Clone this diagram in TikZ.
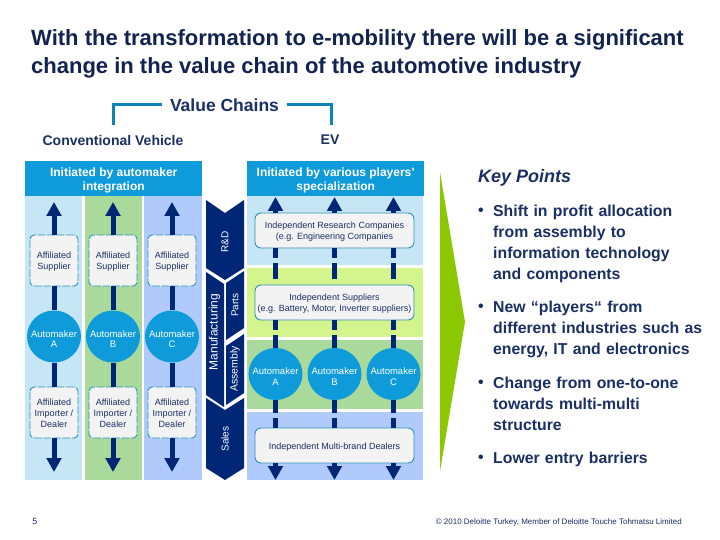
\documentclass[tikz,border=0pt]{standalone}
\usepackage{fontspec}
\setmainfont{Liberation Sans}
\usetikzlibrary{arrows.meta,shapes.geometric}
\definecolor{navy}{HTML}{1A2F63}
\definecolor{titlec}{HTML}{12234F}
\definecolor{dark}{HTML}{002776}
\definecolor{cyanh}{HTML}{0F9BD9}
\definecolor{teal}{HTML}{2C93B5}
\definecolor{lblue}{HTML}{C6E6F5}
\definecolor{lgreen}{HTML}{A9DA9B}
\definecolor{lperi}{HTML}{B0CBFB}
\definecolor{lyel}{HTML}{D4F58E}
\definecolor{lime}{HTML}{8CC800}
\definecolor{boxf}{HTML}{F3F3F3}
\tikzset{
  x=1pt,y=-1pt,
  head/.style={fill=cyanh,minimum width=177pt,minimum height=35pt,inner sep=0pt},
  headtext/.style={text=white,font=\fontsize{12}{14}\selectfont\bfseries,align=center,inner sep=0pt,yshift=-2pt},
  dashbox/.style={draw=teal,dash pattern=on 8pt off 1.5pt,line width=0.9pt,fill=boxf,rounded corners=4pt,minimum width=48pt,minimum height=51pt,inner sep=0pt},
  solidbox/.style={draw=teal,line width=0.9pt,fill=boxf,rounded corners=6pt,minimum width=159pt,minimum height=35pt,inner sep=0pt},
  boxtext/.style={align=center,inner sep=0pt,text=navy,font=\fontsize{9}{11}\selectfont,yshift=-1.5pt},
  maker/.style={ellipse,fill=cyanh,minimum width=54pt,minimum height=52pt,inner sep=0pt},
  makertext/.style={text=white,align=center,inner sep=0pt,font=\fontsize{9.5}{10.5}\selectfont,yshift=-2.5pt},
  flow/.style={draw=dark,line width=5pt,-{Triangle[width=14.5pt,length=14pt]}},
  plainflow/.style={draw=dark,line width=5pt},
  chev/.style={fill=dark,draw=none},
  chevt/.style={text=white,font=\fontsize{10}{12}\selectfont,inner sep=0pt},
  brk/.style={draw=cyanh!85!black,line width=3pt},
  txt/.style={text=navy,inner sep=0pt},
  key/.style={text=navy,inner sep=0pt,anchor=north west,align=left,font=\fontsize{15.8}{21}\selectfont\bfseries,text width=225pt},
}
\begin{document}
\begin{tikzpicture}
\useasboundingbox (0,0) rectangle (720,540);
\fill[white] (0,0) rectangle (720,540);
% title
\node[text=titlec,inner sep=0pt,anchor=north west,align=left,font=\fontsize{22}{28}\selectfont\bfseries] (title) at (31,29) {With the transformation to e-mobility there will be a significant\\change in the value chain of the automotive industry};
% value chains
\node[txt,font=\fontsize{17.5}{20}\selectfont\bfseries] (vc) at (224.5,105) {Value Chains};
\node[txt,font=\fontsize{14}{16}\selectfont\bfseries] (cv) at (113,140) {Conventional Vehicle};
\node[txt,font=\fontsize{14}{16}\selectfont\bfseries] (ev) at (330,140) {EV};
\coordinate (bl) at (113,125); \coordinate (bla) at (113,105);
\coordinate (br) at (331,125); \coordinate (bra) at (331,105);
\draw[brk] (bl) -- (bla) -- ([xshift=-8pt]vc.west);
\draw[brk] (br) -- (bra) -- ([xshift=8pt]vc.east);
% left columns
\fill[lblue] (25,196) rectangle (82,480);
\fill[lgreen] (85,196) rectangle (142,480);
\fill[lperi] (144,196) rectangle (202,480);
\node[head,anchor=north west,label={[headtext]center:Initiated by automaker\\integration}] (hl) at (25,161) {};
% right bands
\fill[lblue] (247,196) rectangle (423,265);
\fill[lyel] (247,268) rectangle (423,337);
\fill[lgreen] (247,340) rectangle (423,409);
\fill[lperi] (247,412) rectangle (423,480);
\node[head,anchor=north west,label={[headtext]center:Initiated by various players’\\specialization}] (hr) at (247,161) {};
% chevrons
\fill[chev] (206,200) -- (225,213) -- (244,200) -- (244,268) -- (225,280) -- (206,268) -- cycle;
\fill[chev] (206,272) -- (224,284) -- (224,407) -- (206,395) -- cycle;
\fill[chev] (226,283) -- (244,271) -- (244,328) -- (226,340) -- cycle;
\fill[chev] (226,346) -- (244,334) -- (244,393) -- (226,405) -- cycle;
\fill[chev] (206,398) -- (225,410) -- (244,398) -- (244,468) -- (225,480) -- (206,468) -- cycle;
\node[chevt,rotate=90] (rd) at (225,242) {R\&D};
\node[chevt,rotate=90,font=\fontsize{12}{14}\selectfont] (mf) at (214.5,332) {Manufacturing};
\node[chevt,rotate=90] (pa) at (235,305) {Parts};
\node[chevt,rotate=90,font=\fontsize{10.5}{12}\selectfont] (as) at (235,369) {Assembly};
\node[chevt,rotate=90] (sa) at (225,439) {Sales};
% left chains
\foreach \n/\x/\L in {a/54/A,b/113/B,c/172/C}{
  \node[maker,label={[makertext]center:Automaker\\\L}] (m\n) at (\x,336.5) {};
  \node[dashbox,label={[boxtext]center:Affiliated\\Supplier}] (s\n) at (\x,260.5) {};
  \node[dashbox,label={[boxtext,yshift=0.5pt]center:Affiliated\\Importer /\\Dealer}] (d\n) at (\x,412.5) {};
  \coordinate (t\n) at (\x,202);
  \coordinate (e\n) at (\x,472);
  \draw[plainflow] (m\n.north) -- (s\n.south);
  \draw[flow] (s\n.north) -- (t\n);
  \draw[plainflow] (m\n.south) -- (d\n.north);
  \draw[flow] (d\n.south) -- (e\n);
}
% right chains
\node[solidbox,label={[boxtext]center:Independent Research Companies\\(e.g. Engineering Companies}] (rco) at (334.5,230.5) {};
\node[solidbox,label={[boxtext]center:Independent Suppliers\\(e.g. Battery, Motor, Inverter suppliers)}] (sup) at (334.5,302.5) {};
\node[solidbox,label={[boxtext]center:Independent Multi-brand Dealers}] (dea) at (334.5,445.5) {};
\foreach \n/\x/\L in {a/275.5/A,b/334.5/B,c/393.5/C}{
  \node[maker,label={[makertext]center:Automaker\\\L}] (rr\n) at (\x,374) {};
  \coordinate (rtop\n) at (\x,197);
  \coordinate (rend\n) at (\x,480);
  \draw[flow] (rco.north -| rr\n) -- (rtop\n);
  \draw[plainflow,dash pattern=on 10pt off 5pt on 16pt off 100pt] (rco.south -| rr\n) -- (sup.north -| rr\n);
  \draw[plainflow,dash pattern=on 10pt off 5pt on 13pt off 100pt] (sup.south -| rr\n) -- (rr\n.north);
  \draw[plainflow,dash pattern=on 13pt off 5pt on 10pt off 100pt] (rr\n.south) -- (dea.north -| rr\n);
  \draw[flow] (dea.south -| rr\n) -- (rend\n);
}
% green arrow
\fill[lime] (440,172) -- (465,322) -- (440,471) -- cycle;
% key points
\node[txt,anchor=west,font=\fontsize{18}{20}\selectfont\bfseries\itshape] (kp) at (478,177.5) {Key Points};
\foreach \nm/\y in {b1/208,b2/304,b3/380,b4/455}{\node[txt,anchor=north west,font=\fontsize{15.8}{21}\selectfont\bfseries] (\nm) at (478,\y) {•};}
\node[key] (k1) at (493,205) {Shift in profit allocation\\from assembly to\\information technology\\and components};
\node[key] (k2) at (493,301) {New “players“ from\\different industries such as\\energy, IT and electronics};
\node[key] (k3) at (493,377) {Change from one-to-one\\towards multi-multi\\structure};
\node[key] (k4) at (493,452) {Lower entry barriers};
% footer
\node[txt,font=\fontsize{9}{11}\selectfont] (pg) at (35,521) {5};
\node[txt,anchor=east,font=\fontsize{8}{9}\selectfont] (cr) at (682,522) {© 2010 Deloitte Turkey, Member of Deloitte Touche Tohmatsu Limited};
\end{tikzpicture}
\end{document}
